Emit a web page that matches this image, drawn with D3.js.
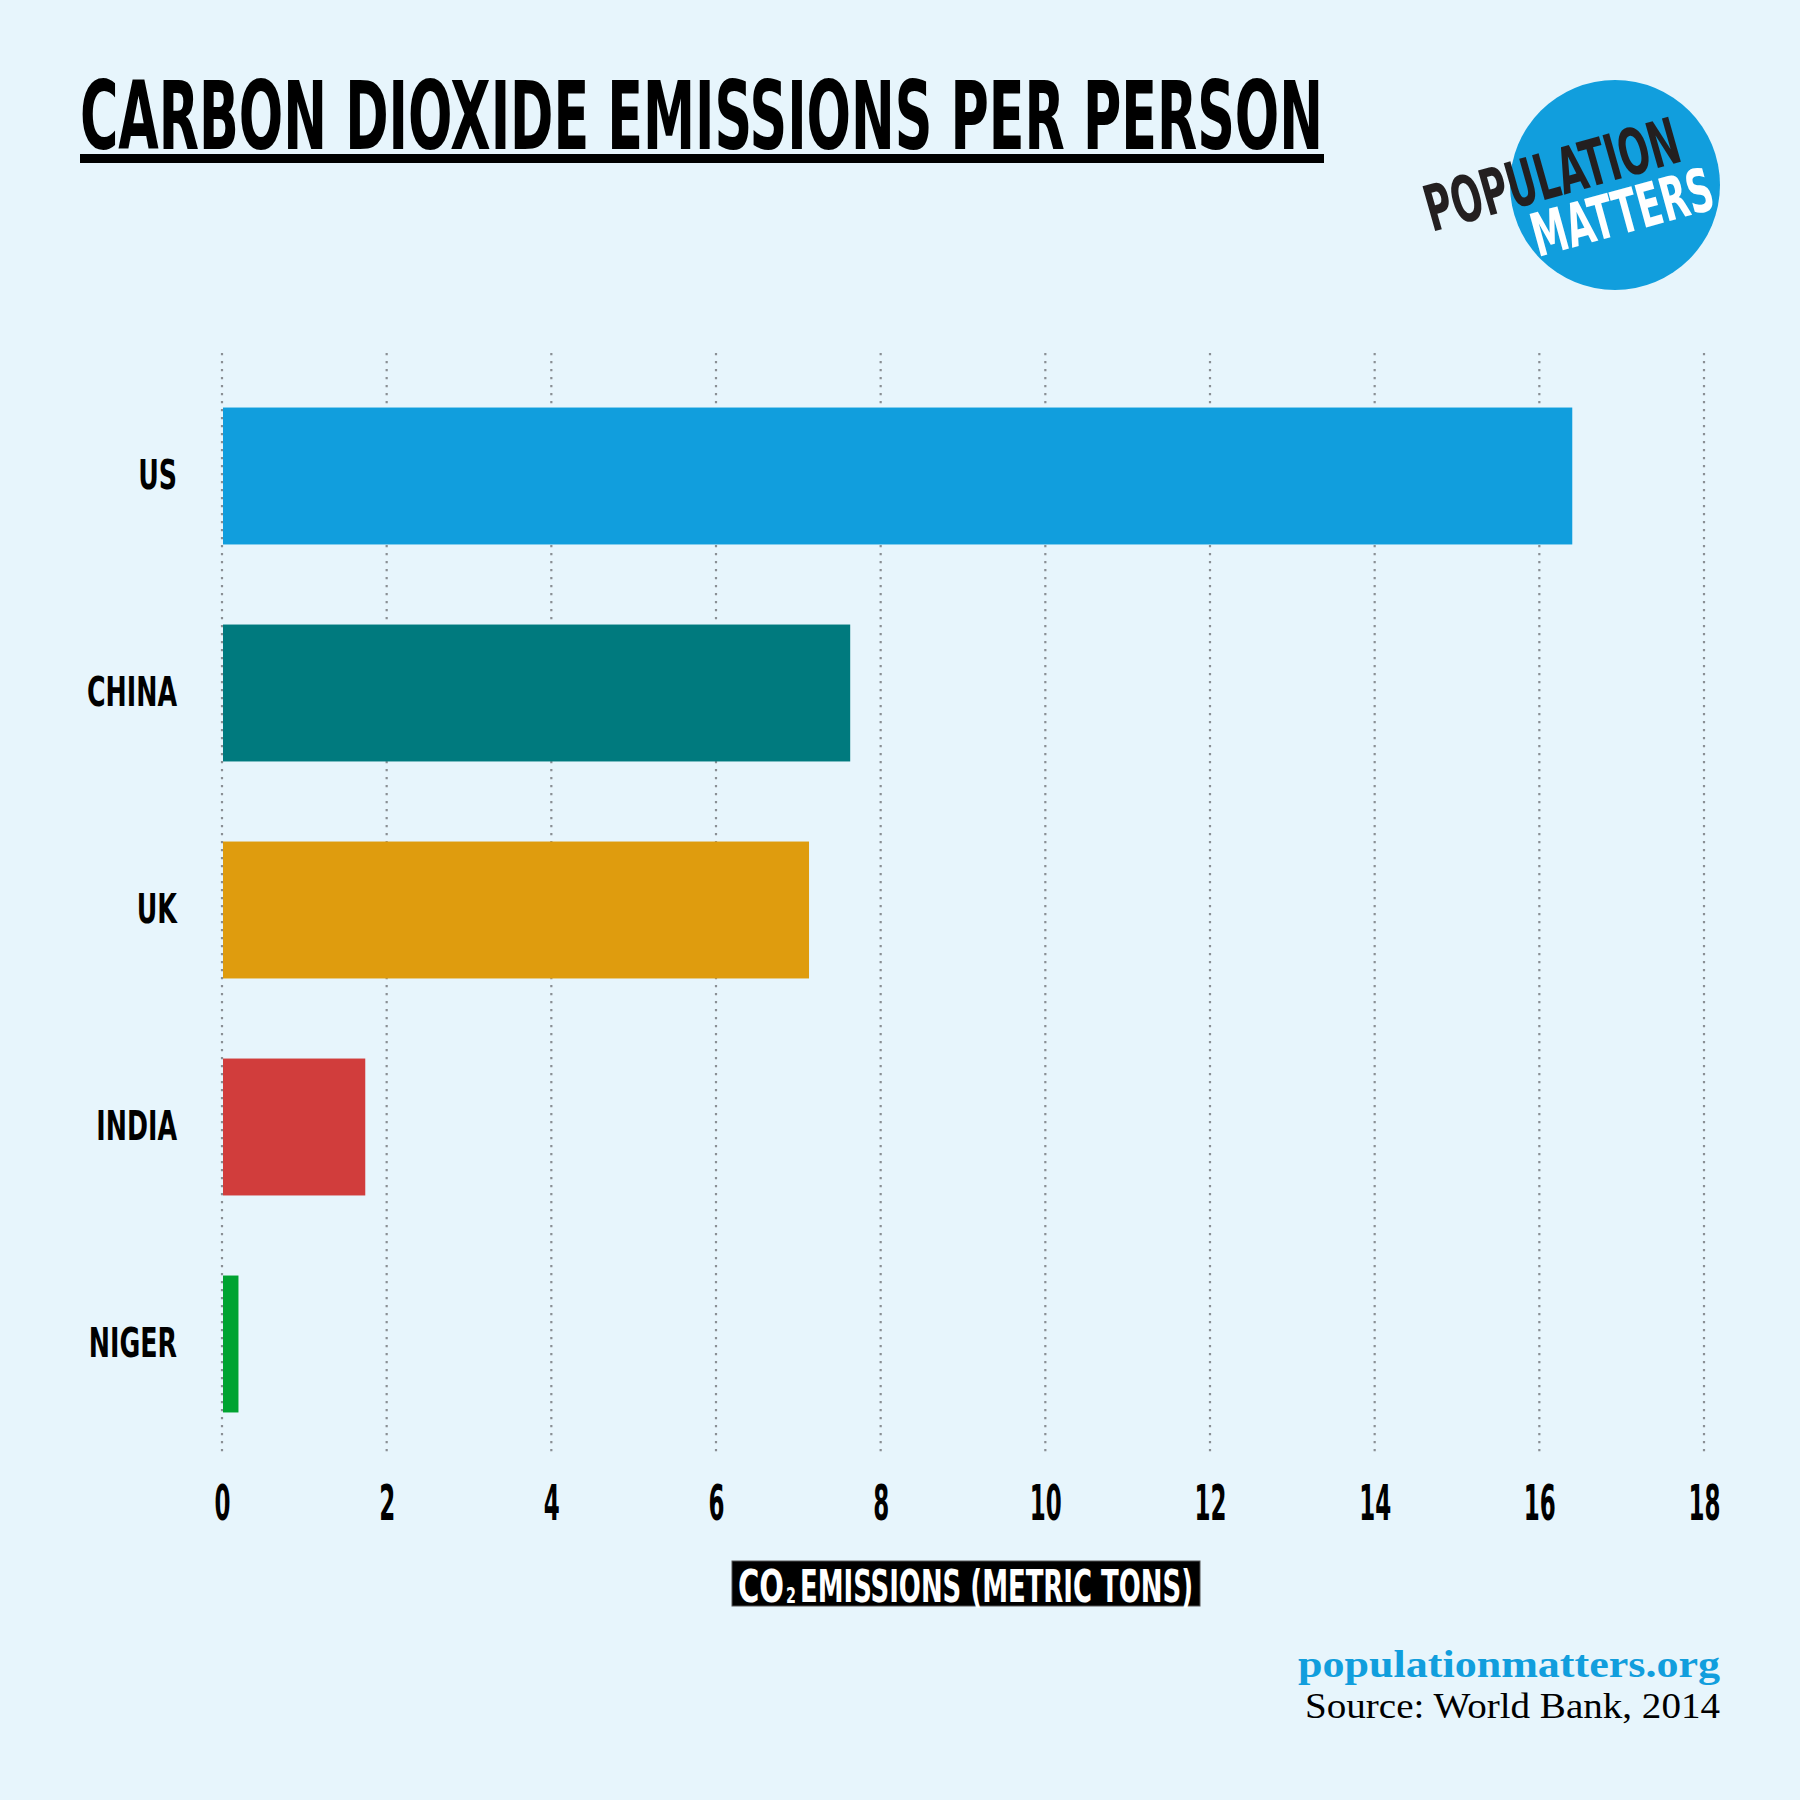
<!DOCTYPE html>
<html>
<head>
<meta charset="utf-8">
<script src="https://cdn.jsdelivr.net/npm/d3@7"></script>
<style>
  html, body { margin: 0; padding: 0; background: #E7F5FC; }
  svg { display: block; }
</style>
</head>
<body>
<svg id="chart" width="1800" height="1800"></svg>
<script>
// ---- data ----
const categories = ["US", "CHINA", "UK", "INDIA", "NIGER"];
const values = [16.4, 7.63, 7.13, 1.74, 0.2];
const barColors = ["#119EDD", "#007A7E", "#DF9C0E", "#D13D3C", "#00A331"];
const tickValues = [0, 2, 4, 6, 8, 10, 12, 14, 16, 18];
const titleText = "CARBON DIOXIDE EMISSIONS PER PERSON";
const axisTitleParts = ["CO", "2", "EMISSIONS (METRIC TONS)"];
const footerUrl = "populationmatters.org";
const footerSource = "Source: World Bank, 2014";
const logoWords = ["POPULATION", "MATTERS"];

const W = 1800, H = 1800;
const condFont = "'Liberation Sans Narrow', 'DejaVu Sans Condensed', 'Arial Narrow', sans-serif";
const serifFont = "Georgia, 'Liberation Serif', 'DejaVu Serif', serif";

const svg = d3.select("#chart");
svg.append("rect").attr("width", W).attr("height", H).attr("fill", "#E7F5FC");

function fitWidth(sel, w) {
  sel.attr("textLength", w).attr("lengthAdjust", "spacingAndGlyphs");
}

// ---- title ----
const title = svg.append("text")
  .attr("x", 80).attr("y", 149)
  .attr("font-family", condFont).attr("font-weight", "bold")
  .attr("font-size", 94).attr("fill", "#000")
  .text(titleText);
fitWidth(title, 1243);
svg.append("rect").attr("x", 80).attr("y", 154).attr("width", 1244).attr("height", 9).attr("fill", "#000");

// ---- logo ----
const logo = svg.append("g");
logo.append("circle").attr("cx", 1615).attr("cy", 185).attr("r", 105).attr("fill", "#119EDD");
const pop = logo.append("text")
  .attr("transform", "translate(1432,232) rotate(-15.8)")
  .attr("font-family", condFont).attr("font-weight", "bold")
  .attr("font-size", 64).attr("fill", "#231F20")
  .text(logoWords[0]);
fitWidth(pop, 262);
const mat = logo.append("text")
  .attr("transform", "translate(1538,257) rotate(-15.3)")
  .attr("font-family", condFont).attr("font-weight", "bold")
  .attr("font-size", 60).attr("fill", "#FFFFFF")
  .text(logoWords[1]);
fitWidth(mat, 186);

// ---- scales ----
const x = d3.scaleLinear().domain([0, 18]).range([222, 1704]);
const y = d3.scaleBand().domain(categories).range([367.5, 1452.5])
  .paddingInner(0.369).paddingOuter(0.1845);

// ---- gridlines ----
svg.append("g").selectAll("line").data(tickValues).join("line")
  .attr("x1", d => x(d)).attr("x2", d => x(d))
  .attr("y1", 353).attr("y2", 1452)
  .attr("stroke", "#8A8F94").attr("stroke-width", 2.2)
  .attr("stroke-dasharray", "2.2,5.8");

// ---- bars ----
svg.append("g").selectAll("rect").data(categories).join("rect")
  .attr("x", x(0) + 1)
  .attr("y", d => y(d))
  .attr("width", (d, i) => x(values[i]) - x(0) - 1)
  .attr("height", y.bandwidth())
  .attr("fill", (d, i) => barColors[i]);

// ---- category labels ----
const labelSize = 41;
const labels = svg.append("g").selectAll("text").data(categories).join("text")
  .attr("x", 177)
  .attr("y", d => y(d) + y.bandwidth() / 2 + 13)
  .attr("text-anchor", "end")
  .attr("font-family", condFont).attr("font-weight", "bold")
  .attr("font-size", labelSize).attr("fill", "#000")
  .text(d => d);
let refW = 0;
labels.each(function (d) { if (d === "CHINA") refW = this.getComputedTextLength(); });
const kLab = refW ? 90 / refW : 1;
labels.each(function () { fitWidth(d3.select(this), this.getComputedTextLength() * kLab); });

// ---- x axis ----
const axis = svg.append("g").attr("transform", "translate(0,1520)")
  .call(d3.axisBottom(x).tickValues(tickValues).tickSize(0).tickPadding(0).tickFormat(d3.format("d")));
axis.select(".domain").remove();
const tickTexts = axis.selectAll("text")
  .attr("y", 0).attr("dy", 0)
  .attr("font-family", condFont).attr("font-weight", "bold")
  .attr("font-size", 49).attr("fill", "#000");
let tW = 0;
tickTexts.each(function (d) { if (d === 16) tW = this.getComputedTextLength(); });
const kTick = tW ? 32 / tW : 1;
tickTexts.each(function () { fitWidth(d3.select(this), this.getComputedTextLength() * kTick); });

// ---- axis title ----
const at = svg.append("g");
at.append("rect").attr("x", 732).attr("y", 1561).attr("width", 468).attr("height", 45)
  .attr("fill", "#000").attr("stroke", "#555").attr("stroke-width", 1);
const co = at.append("text").attr("x", 738).attr("y", 1602)
  .attr("font-family", condFont).attr("font-weight", "bold")
  .attr("font-size", 45).attr("fill", "#fff").text(axisTitleParts[0]);
fitWidth(co, 46);
const sub = at.append("text").attr("x", 786).attr("y", 1603)
  .attr("font-family", condFont).attr("font-weight", "bold")
  .attr("font-size", 22).attr("fill", "#fff").text(axisTitleParts[1]);
fitWidth(sub, 10);
const em = at.append("text").attr("x", 800).attr("y", 1602)
  .attr("font-family", condFont).attr("font-weight", "bold")
  .attr("font-size", 45).attr("fill", "#fff").text(axisTitleParts[2]);
fitWidth(em, 393);

// ---- footer ----
const url = svg.append("text").attr("x", 1720).attr("y", 1677)
  .attr("text-anchor", "end")
  .attr("font-family", serifFont).attr("font-weight", "bold")
  .attr("font-size", 38).attr("fill", "#119EDD").text(footerUrl);
fitWidth(url, 422);
const src = svg.append("text").attr("x", 1720).attr("y", 1718)
  .attr("text-anchor", "end")
  .attr("font-family", serifFont)
  .attr("font-size", 35).attr("fill", "#000").text(footerSource);
fitWidth(src, 415);
</script>
</body>
</html>
